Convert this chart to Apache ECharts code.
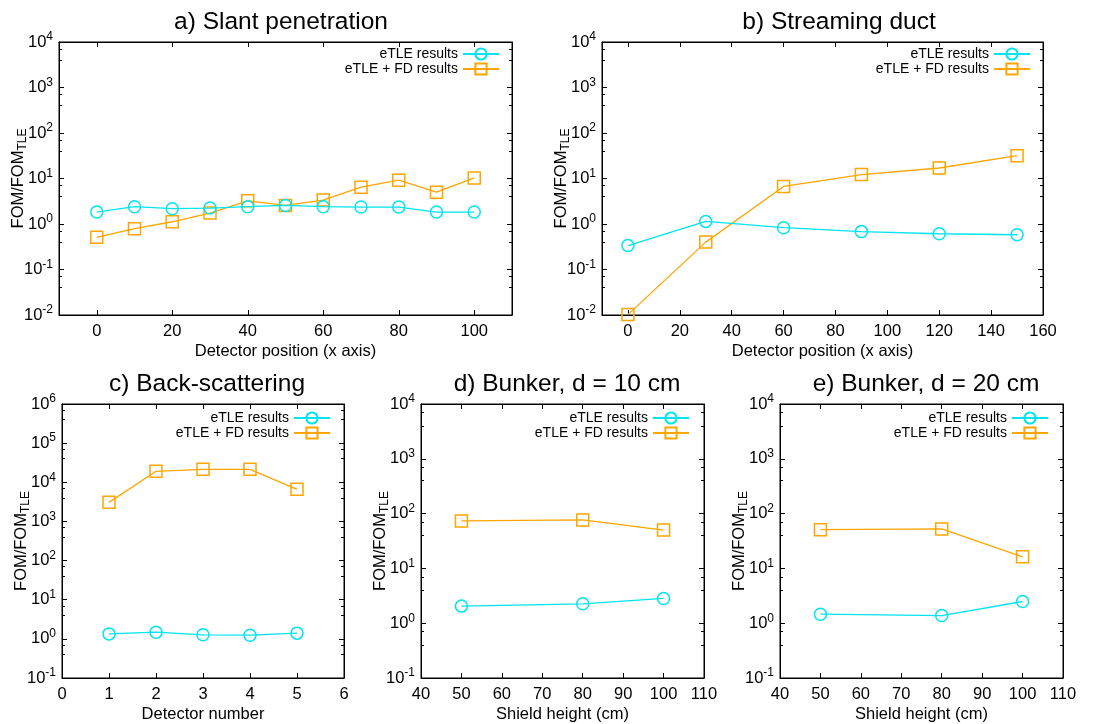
<!DOCTYPE html>
<html>
<head>
<meta charset="utf-8">
<script src="https://cdn.jsdelivr.net/npm/echarts@6/dist/echarts.min.js"></script>
<style>
html,body{margin:0;padding:0;background:#fff;}
#c{width:1094px;height:724px;}
</style>
</head>
<body>
<div id="c"></div>
<script>
// ---- data ----
const seriesNames = ['eTLE results', 'eTLE + FD results'];

const titles = ['a) Slant penetration', 'b) Streaming duct', 'c) Back-scattering', 'd) Bunker, d = 10 cm', 'e) Bunker, d = 20 cm'];
const xNames = ['Detector position (x axis)', 'Detector position (x axis)', 'Detector number', 'Shield height (cm)', 'Shield height (cm)'];

const aX = [0, 10, 20, 30, 40, 50, 60, 70, 80, 90, 100];
const aETLE = [1.83, 2.4, 2.17, 2.24, 2.4, 2.56, 2.4, 2.36, 2.36, 1.83, 1.83];
const aFD = [0.51, 0.79, 1.12, 1.74, 3.24, 2.56, 3.36, 6.45, 9.2, 5.0, 10.3];

const bX = [0, 30, 60, 90, 120, 150];
const bETLE = [0.336, 1.14, 0.83, 0.68, 0.61, 0.58];
const bFD = [0.0102, 0.40, 6.7, 12.2, 17, 31.8];

const cX = [1, 2, 3, 4, 5];
const cETLE = [1.34, 1.48, 1.27, 1.24, 1.40];
const cFD = [3070, 19100, 21400, 21400, 6600];

const dX = [50, 80, 100];
const dETLE = [2.05, 2.26, 2.83];
const dFD = [73.5, 76.6, 50];

const eX = [50, 80, 100];
const eETLE = [1.46, 1.38, 2.49];
const eFD = [51, 52.5, 16.3];

// axis ranges
const xRanges = [[-10, 110], [-10, 160], [0, 6], [40, 110], [40, 110]];
const yRanges = [[1e-2, 1e4], [1e-2, 1e4], [1e-1, 1e6], [1e-1, 1e4], [1e-1, 1e4]];

// ---- layout / style ----
const panels = [
  {x: aX, e: aETLE, f: aFD, grid: {left: 59, top: 42, width: 453, height: 273}, tx: 276, ty: 5, xSplit: 6, xInt: null, labStep: 20, legRight: 594, legTop: 47},
  {x: bX, e: bETLE, f: bFD, grid: {left: 602, top: 42, width: 441, height: 273}, tx: 834, ty: 5, xSplit: 8, xInt: null, labStep: 20, legRight: 63, legTop: 47},
  {x: cX, e: cETLE, f: cFD, grid: {left: 62, top: 404, width: 282, height: 274}, tx: 202, ty: 367, xSplit: 6, xInt: 1, labStep: 1, legRight: 763, legTop: 411},
  {x: dX, e: dETLE, f: dFD, grid: {left: 421, top: 404, width: 283, height: 274}, tx: 562, ty: 367, xSplit: 7, xInt: 10, labStep: 10, legRight: 404, legTop: 411},
  {x: eX, e: eETLE, f: eFD, grid: {left: 780, top: 404, width: 283, height: 274}, tx: 921, ty: 367, xSplit: 7, xInt: 10, labStep: 10, legRight: 45, legTop: 411}
];

const CYAN = '#00e5f0';
const ORANGE = '#ffa500';
const FONT = 'Liberation Sans, Arial, sans-serif';
const FS = 16.5;

const option = {
  animation: false,
  backgroundColor: '#fff',
  textStyle: {fontFamily: FONT, color: '#000'},
  title: [], grid: [], xAxis: [], yAxis: [], series: [], legend: []
};

function logLabel(v) {
  const e = Math.round(Math.log10(v));
  return '10{s|' + e + '}';
}

panels.forEach((p, i) => {
  option.title.push({
    text: titles[i], left: p.tx, top: p.ty, textAlign: 'center',
    textStyle: {fontFamily: FONT, fontSize: 24.5, fontWeight: 'normal', color: '#000'}
  });
  option.grid.push(Object.assign({show: true, borderColor: '#000', borderWidth: 1, backgroundColor: 'transparent'}, p.grid));

  const xr = xRanges[i], yr = yRanges[i];
  const step = p.labStep;
  const xBase = {
    type: 'value', gridIndex: i, min: xr[0], max: xr[1],
    splitLine: {show: false},
    axisLine: {show: true, onZero: false, lineStyle: {color: '#000', width: 1}},
    axisTick: {show: true, inside: true, length: 5, lineStyle: {color: '#000'}}
  };
  if (p.xInt) xBase.interval = p.xInt; else xBase.splitNumber = p.xSplit;

  option.xAxis.push(Object.assign({}, xBase, {
    position: 'bottom',
    name: xNames[i], nameLocation: 'middle', nameGap: 28, nameMoveOverlap: false,
    nameTextStyle: {fontFamily: FONT, fontSize: FS, color: '#000'},
    axisLabel: {
      fontFamily: FONT, fontSize: FS, color: '#000', margin: 8,
      formatter: v => (Math.abs(v % step) < 1e-9 && v >= 0 ? String(v) : '')
    }
  }));
  option.xAxis.push(Object.assign({}, xBase, {position: 'top', axisLabel: {show: false}}));

  const yBase = {
    type: 'log', logBase: 10, gridIndex: i, min: yr[0], max: yr[1],
    splitLine: {show: false},
    axisLine: {show: true, onZero: false, lineStyle: {color: '#000', width: 1}},
    axisTick: {show: true, inside: true, length: 5, lineStyle: {color: '#000'}},
    minorTick: {show: true, splitNumber: 3, length: 3, lineStyle: {color: '#000'}},
    minorSplitLine: {show: false}
  };
  option.yAxis.push(Object.assign({}, yBase, {
    position: 'left',
    name: '{a|FOM/FOM}{b|TLE}', nameLocation: 'middle', nameGap: 30, nameMoveOverlap: false,
    nameTextStyle: {
      fontFamily: FONT, color: '#000',
      rich: {
        a: {fontFamily: FONT, fontSize: FS, color: '#000'},
        b: {fontFamily: FONT, fontSize: 12, color: '#000', padding: [10, 0, 0, 0]}
      }
    },
    axisLabel: {
      fontFamily: FONT, fontSize: FS, color: '#000', margin: 6,
      formatter: logLabel,
      rich: {s: {fontFamily: FONT, fontSize: 12, color: '#000', padding: [0, 0, 10, 0]}}
    }
  }));
  option.yAxis.push(Object.assign({}, yBase, {position: 'right', axisLabel: {show: false}}));

  const xi = 2 * i, yi = 2 * i;
  option.series.push({
    name: seriesNames[0], type: 'line', xAxisIndex: xi, yAxisIndex: yi,
    data: p.x.map((x, k) => [x, p.e[k]]),
    symbol: 'circle', symbolSize: 12,
    itemStyle: {color: 'rgba(255,255,255,0)', borderColor: CYAN, borderWidth: 1.5},
    lineStyle: {color: CYAN, width: 1.3},
    emphasis: {disabled: true}, z: 3
  });
  option.series.push({
    name: seriesNames[1], type: 'line', xAxisIndex: xi, yAxisIndex: yi,
    data: p.x.map((x, k) => [x, p.f[k]]),
    symbol: 'rect', symbolSize: 12,
    itemStyle: {color: 'rgba(255,255,255,0)', borderColor: ORANGE, borderWidth: 1.5},
    lineStyle: {color: ORANGE, width: 1.3},
    emphasis: {disabled: true}, z: 2
  });

  option.legend.push({
    data: seriesNames, orient: 'vertical', align: 'right',
    right: p.legRight, top: p.legTop, padding: 0,
    itemWidth: 36, itemHeight: 14, itemGap: 1,
    selectedMode: false,
    textStyle: {fontFamily: FONT, fontSize: 14, lineHeight: 14, color: '#000'}
  });
});

const chart = echarts.init(document.getElementById('c'), null, {renderer: 'canvas'});
chart.setOption(option);
</script>
</body>
</html>
